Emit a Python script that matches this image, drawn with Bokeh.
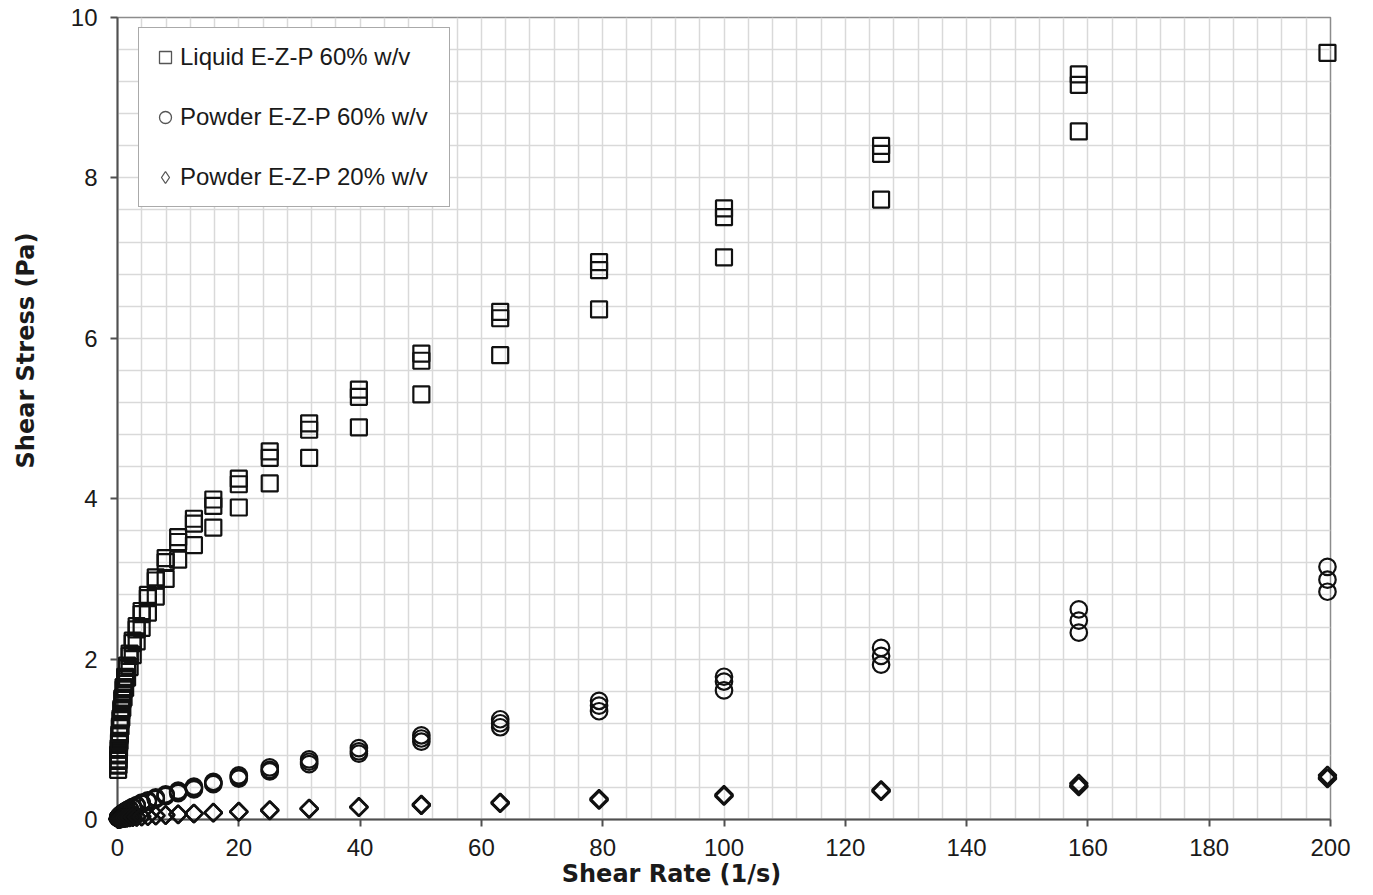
import numpy as np
from bokeh.plotting import figure
from bokeh.models import Range1d, FixedTicker, Legend, LegendItem, ColumnDataSource
from bokeh.core.properties import value
from bokeh.embed import file_html
from bokeh.resources import INLINE

# ---------------- data ----------------
shear_rate = [0.1, 0.126, 0.158, 0.2, 0.251, 0.316, 0.398, 0.501, 0.631, 0.794,
              1.0, 1.26, 1.58, 2.0, 2.51, 3.16, 3.98, 5.01, 6.31, 7.94,
              10.0, 12.6, 15.8, 20.0, 25.1, 31.6, 39.8, 50.1, 63.1, 79.4,
              100.0, 125.9, 158.5, 199.5]

liquid_60_run1 = [0.68, 0.74, 0.81, 0.89, 0.97, 1.06, 1.16, 1.26, 1.38, 1.51,
                  1.65, 1.78, 1.92, 2.07, 2.23, 2.41, 2.60, 2.80, 3.02, 3.26,
                  3.52, 3.75, 3.99, 4.25, 4.59, 4.94, 5.36, 5.81, 6.33, 6.95,
                  7.62, 8.40, 9.29]
liquid_60_run2 = [0.67, 0.73, 0.80, 0.87, 0.95, 1.04, 1.14, 1.24, 1.36, 1.49,
                  1.62, 1.75, 1.89, 2.04, 2.20, 2.37, 2.56, 2.76, 2.98, 3.21,
                  3.46, 3.69, 3.91, 4.18, 4.51, 4.86, 5.27, 5.72, 6.25, 6.85,
                  7.51, 8.30, 9.16]
liquid_60_run3 = [0.62, 0.68, 0.75, 0.82, 0.89, 0.98, 1.07, 1.16, 1.27, 1.39,
                  1.52, 1.64, 1.77, 1.90, 2.05, 2.22, 2.39, 2.58, 2.78, 3.00,
                  3.24, 3.42, 3.64, 3.89, 4.19, 4.51, 4.89, 5.30, 5.79, 6.36,
                  7.01, 7.73, 8.58, 9.56]

powder_60_run1 = [0.020, 0.023, 0.027, 0.031, 0.036, 0.042, 0.049, 0.057, 0.066, 0.076,
                  0.088, 0.102, 0.118, 0.137, 0.158, 0.180, 0.210, 0.240, 0.275, 0.315,
                  0.36, 0.41, 0.47, 0.55, 0.65, 0.75, 0.89, 1.05, 1.25, 1.48,
                  1.78, 2.14, 2.62, 3.15]
powder_60_run2 = [0.019, 0.022, 0.026, 0.030, 0.034, 0.040, 0.047, 0.054, 0.063, 0.073,
                  0.084, 0.097, 0.113, 0.131, 0.151, 0.172, 0.200, 0.230, 0.263, 0.300,
                  0.345, 0.39, 0.45, 0.53, 0.62, 0.72, 0.85, 1.01, 1.20, 1.42,
                  1.72, 2.04, 2.48, 2.99]
powder_60_run3 = [0.018, 0.021, 0.025, 0.029, 0.033, 0.039, 0.045, 0.052, 0.061, 0.070,
                  0.081, 0.094, 0.109, 0.126, 0.145, 0.166, 0.193, 0.220, 0.253, 0.290,
                  0.33, 0.375, 0.44, 0.51, 0.60, 0.69, 0.82, 0.97, 1.15, 1.35,
                  1.61, 1.93, 2.33, 2.84]

powder_20_run1 = [0.005, 0.005, 0.006, 0.007, 0.008, 0.009, 0.010, 0.012, 0.013, 0.015,
                  0.017, 0.020, 0.023, 0.026, 0.030, 0.034, 0.039, 0.044, 0.051, 0.058,
                  0.067, 0.077, 0.088, 0.100, 0.120, 0.140, 0.160, 0.190, 0.215, 0.26,
                  0.31, 0.37, 0.45, 0.55]
powder_20_run2 = [0.005, 0.005, 0.006, 0.007, 0.008, 0.009, 0.010, 0.011, 0.012, 0.014,
                  0.016, 0.019, 0.022, 0.025, 0.029, 0.033, 0.037, 0.042, 0.049, 0.056,
                  0.064, 0.074, 0.085, 0.097, 0.115, 0.135, 0.155, 0.180, 0.210, 0.25,
                  0.30, 0.36, 0.42, 0.52]
powder_20_run3 = [0.004, 0.005, 0.005, 0.006, 0.007, 0.008, 0.009, 0.011, 0.012, 0.014,
                  0.016, 0.018, 0.021, 0.024, 0.028, 0.032, 0.036, 0.041, 0.047, 0.054,
                  0.062, 0.072, 0.082, 0.094, 0.110, 0.130, 0.150, 0.175, 0.200, 0.24,
                  0.29, 0.35, 0.41, 0.51]

series_labels = ["Liquid E-Z-P 60% w/v", "Powder E-Z-P 60% w/v", "Powder E-Z-P 20% w/v"]
x_ticks = [0, 20, 40, 60, 80, 100, 120, 140, 160, 180, 200]
y_ticks = [0, 2, 4, 6, 8, 10]
x_title = "Shear Rate (1/s)"
y_title = "Shear Stress (Pa)"

# ---------------- layout (pixels) ----------------
W, H = 1373, 895
FR_L, FR_R, FR_T, FR_B = 117, 1330, 17, 819
X_MAX, Y_MAX = x_ticks[-1], y_ticks[-1]
kx = (FR_R - FR_L) / X_MAX
ky = (FR_B - FR_T) / Y_MAX

p = figure(width=W, height=H, x_range=Range1d(0, X_MAX), y_range=Range1d(0, Y_MAX),
           min_border_left=FR_L, min_border_right=W - FR_R,
           min_border_top=FR_T, min_border_bottom=H - FR_B,
           output_backend="svg", toolbar_location=None)
p.background_fill_color = "white"
p.border_fill_color = "white"
p.outline_line_color = "#8c8c8c"
p.outline_line_width = 1.5

p.xgrid.ticker = FixedTicker(ticks=[4 * i for i in range(51)])
p.ygrid.ticker = FixedTicker(ticks=[round(0.4 * i, 1) for i in range(26)])
for g in (p.xgrid, p.ygrid):
    g.grid_line_color = "#d9d9d9"
    g.grid_line_width = 1.5

def src(*runs):
    xs, ys = [], []
    for r in runs:
        xs += shear_rate[:len(r)]
        ys += list(r)
    return ColumnDataSource(dict(x=xs, y=ys))

# markers drawn on the overlay level so that they are not cut at the frame edge
p.scatter("x", "y", source=src(liquid_60_run1, liquid_60_run2, liquid_60_run3), level="overlay",
          marker="square", size=16, fill_color=None, line_color="#111111", line_width=2.2)
p.scatter("x", "y", source=src(powder_60_run1, powder_60_run2, powder_60_run3), level="overlay",
          marker="circle", size=16.5, fill_color=None, line_color="#111111", line_width=2.2)
p.scatter("x", "y", source=src(powder_20_run1, powder_20_run2, powder_20_run3), level="overlay",
          marker="square", angle=np.pi / 4, size=12.5, fill_color=None, line_color="#111111", line_width=2.2)

# legend proxies (gray, thin markers like the reference legend)
nan_src = ColumnDataSource(dict(x=[np.nan], y=[np.nan]))
lg1 = p.scatter("x", "y", source=nan_src, marker="square", size=12, fill_color=None,
                line_color="#555555", line_width=1.3)
lg2 = p.scatter("x", "y", source=nan_src, marker="circle", size=12, fill_color=None,
                line_color="#555555", line_width=1.3)
lg3 = p.scatter("x", "y", source=nan_src, marker="diamond", size=12, fill_color=None,
                line_color="#555555", line_width=1.3)

legend = Legend(items=[LegendItem(label=series_labels[0], renderers=[lg1]),
                       LegendItem(label=series_labels[1], renderers=[lg2]),
                       LegendItem(label=series_labels[2], renderers=[lg3])],
                location=(138 - FR_L, FR_B - 207), orientation="vertical",
                glyph_width=30, glyph_height=36, padding=11, spacing=24,
                label_standoff=0, label_width=258, margin=0,
                label_text_font="Liberation Sans", label_text_font_size="24px",
                label_text_color="#1a1a1a",
                border_line_color="#555555", border_line_width=1.2,
                background_fill_color="white", background_fill_alpha=1.0)
p.add_layout(legend)

# axes
for ax, ticks in ((p.xaxis[0], x_ticks), (p.yaxis[0], y_ticks)):
    ax.ticker = FixedTicker(ticks=ticks, minor_ticks=[])
    ax.axis_line_color = "#505050"
    ax.axis_line_width = 2
    ax.major_tick_line_color = "#505050"
    ax.major_tick_line_width = 2
    ax.major_tick_in = 0
    ax.major_tick_out = 7
    ax.minor_tick_in = 0
    ax.minor_tick_out = 0
    ax.major_label_text_font = "Liberation Sans"
    ax.major_label_text_font_size = "24px"
    ax.major_label_text_color = "#1a1a1a"
p.xaxis[0].major_label_standoff = 12
p.yaxis[0].major_label_standoff = 13

# axis titles (text glyphs placed in the margins, overlay level so they are not clipped)
tx = p.text(x=[(671 - FR_L) / kx], y=[-(873 - FR_B) / ky], text=[x_title], level="overlay",
            text_font=value("DejaVu Sans"), text_font_style="bold", text_font_size="24px",
            text_color="#1a1a1a", text_align="center", text_baseline="alphabetic")
ty = p.text(x=[-(FR_L - 25) / kx], y=[(FR_B - 350) / ky], text=[y_title], level="overlay",
            angle=np.pi / 2,
            text_font=value("DejaVu Sans"), text_font_style="bold", text_font_size="24px",
            text_color="#1a1a1a", text_align="center", text_baseline="middle")

open("out.html", "w").write(file_html(p, INLINE))
